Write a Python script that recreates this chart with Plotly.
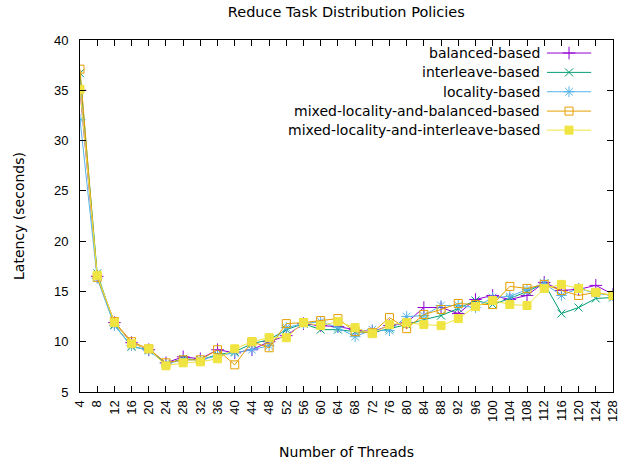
import plotly.graph_objects as go

# Thread counts on the x axis
threads = [4, 8, 12, 16, 20, 24, 28, 32, 36, 40, 44, 48, 52, 56, 60, 64,
           68, 72, 76, 80, 84, 88, 92, 96, 100, 104, 108, 112, 116, 120, 124, 128]

# Latency (seconds) per policy
balanced = [35.0, 16.5, 11.9, 9.9, 9.2, 7.9, 8.5, 8.3, 9.2, 8.9, 9.2, 10.0, 10.6, 11.8, 11.6, 11.5,
            11.2, 11.0, 11.6, 11.9, 13.4, 13.4, 12.8, 14.2, 14.6, 14.2, 14.6, 15.9, 15.1, 15.2, 15.6, 14.7]
interleave = [36.7, 16.8, 11.7, 9.5, 9.2, 7.8, 8.3, 8.2, 8.7, 9.0, 9.8, 10.2, 11.2, 11.8, 11.2, 11.2,
              11.0, 10.9, 11.3, 11.7, 12.2, 12.6, 13.3, 14.1, 13.7, 14.3, 15.0, 15.8, 12.8, 13.4, 14.3, 14.4]
locality = [32.1, 16.3, 11.6, 9.6, 9.1, 7.8, 8.2, 8.2, 8.6, 8.9, 9.2, 9.6, 11.4, 11.8, 12.0, 11.4,
            10.5, 11.2, 11.1, 12.5, 12.6, 13.6, 13.6, 13.4, 14.4, 14.5, 15.2, 15.8, 14.6, 15.3, 14.8, 14.6]
mixed_balanced = [37.1, 16.4, 12.0, 10.0, 9.3, 7.9, 8.2, 8.2, 9.2, 7.7, 10.0, 9.4, 11.8, 11.9, 12.1, 12.3,
                  11.0, 10.9, 12.4, 11.3, 12.7, 13.2, 13.8, 13.7, 13.7, 15.5, 15.3, 15.7, 15.1, 14.6, 14.9, 14.6]
mixed_interleave = [35.1, 16.6, 11.9, 9.8, 9.3, 7.6, 7.9, 8.0, 8.3, 9.3, 10.0, 10.4, 10.4, 11.9, 11.6, 12.0,
                    11.4, 10.8, 11.7, 11.9, 11.7, 11.6, 12.3, 13.5, 14.1, 13.7, 13.6, 15.3, 15.7, 15.3, 14.9, 14.6]

series_names = ["balanced-based", "interleave-based", "locality-based",
                "mixed-locality-and-balanced-based", "mixed-locality-and-interleave-based"]
series_values = [balanced, interleave, locality, mixed_balanced, mixed_interleave]
colors = ["#9400D3", "#009E73", "#56B4E9", "#E69F00", "#F0E442"]
symbols = ["cross-thin-open", "x-thin-open", "asterisk-open", "square-open", "square"]
sizes = [9, 8, 9, 8, 8]

FONT = "DejaVu Sans, sans-serif"
TICK_FONT = "Liberation Sans, Arial, sans-serif"

fig = go.Figure()
for name, vals, col, sym, sz in zip(series_names, series_values, colors, symbols, sizes):
    fig.add_trace(go.Scatter(
        x=threads, y=vals, mode="lines+markers", name=name,
        line=dict(color=col, width=1),
        marker=dict(symbol=sym, size=sz, color=col, line=dict(color=col, width=1)),
        showlegend=False,
    ))

# Key in the top-right corner: right-aligned label, sample line and marker to its right
key_rows = [0.963, 0.908, 0.853, 0.798, 0.744]
for name, col, sym, sz, yk in zip(series_names, colors, symbols, sizes, key_rows):
    fig.add_annotation(x=0.866, y=yk, xref="paper", yref="paper", text=name,
                       showarrow=False, xanchor="right", yanchor="middle",
                       font=dict(family=FONT, size=14, color="#000000"))
    fig.add_shape(type="line", xref="paper", yref="paper",
                  x0=0.876, x1=0.959, y0=yk, y1=yk, line=dict(color=col, width=1))
    fig.add_trace(go.Scatter(
        x=[0.9175], y=[yk], xaxis="x2", yaxis="y2", mode="markers",
        marker=dict(symbol=sym, size=sz, color=col, line=dict(color=col, width=1)),
        showlegend=False, hoverinfo="skip",
    ))

fig.update_layout(
    width=624, height=463,
    margin=dict(l=80, r=4, t=40, b=71),
    paper_bgcolor="white", plot_bgcolor="white",
    font=dict(family=FONT, size=14, color="#000000"),
    title=dict(text="Reduce Task Distribution Policies", x=0.555, xanchor="center",
               y=0.975, yanchor="middle", font=dict(family=FONT, size=14.5)),
    xaxis=dict(
        range=[4, 128], tickmode="array", tickvals=threads,
        ticktext=[str(t) for t in threads], tickangle=-90, ticklabeloverflow="allow",
        ticks="inside", ticklen=6, tickcolor="#000000", mirror="ticks",
        showline=True, linecolor="#000000", linewidth=1, showgrid=False, zeroline=False,
        tickfont=dict(family=TICK_FONT, size=13), ticklabelstandoff=2,
        title=dict(text="Number of Threads", standoff=26, font=dict(family=FONT, size=14)),
    ),
    yaxis=dict(
        range=[5, 40], tickmode="array", tickvals=[5, 10, 15, 20, 25, 30, 35, 40],
        ticks="inside", ticklen=6, tickcolor="#000000", mirror="ticks",
        showline=True, linecolor="#000000", linewidth=1, showgrid=False, zeroline=False,
        tickfont=dict(family=TICK_FONT, size=13), ticklabelstandoff=8,
        title=dict(text="Latency (seconds)", standoff=26, font=dict(family=FONT, size=14)),
    ),
    xaxis2=dict(range=[0, 1], overlaying="x", visible=False, fixedrange=True),
    yaxis2=dict(range=[0, 1], overlaying="y", visible=False, fixedrange=True),
)

fig.write_html("out.html")
